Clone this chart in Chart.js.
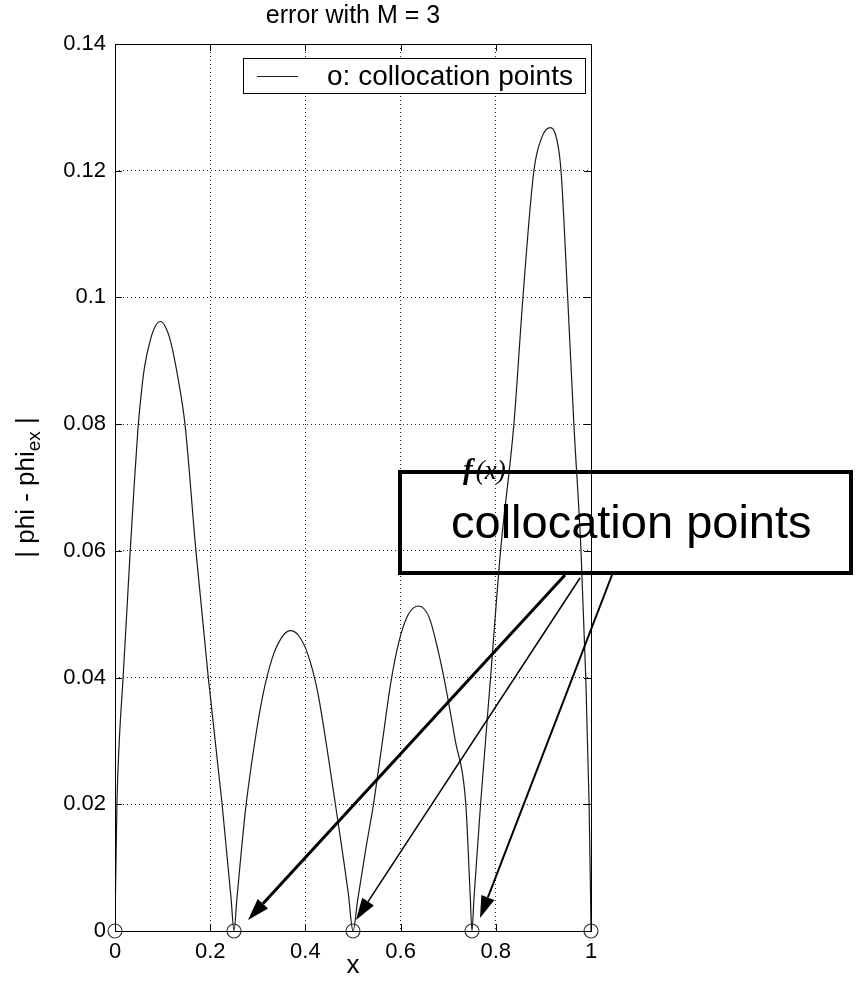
<!DOCTYPE html>
<html>
<head>
<meta charset="utf-8">
<script src="https://cdn.jsdelivr.net/npm/chart.js@4.4.0/dist/chart.umd.min.js"></script>
<style>
  html, body { margin: 0; padding: 0; background: #fff; }
  canvas { display: block; }
</style>
</head>
<body>
<canvas id="errChart" width="860" height="1001"></canvas>
<script>
// |phi - phi_ex|, one hump between each pair of collocation points
const errX = [
    0, 0.001, 0.004, 0.009, 0.017, 0.032, 0.04, 0.048, 0.054, 0.062, 0.075, 0.085, 0.095, 0.105, 0.117, 0.133, 0.147, 0.17, 0.196, 0.225, 0.244, 0.25,
    0.256, 0.274, 0.292, 0.31, 0.33, 0.35, 0.368, 0.386, 0.405, 0.425, 0.445, 0.463, 0.49, 0.5,
    0.51, 0.527, 0.543, 0.562, 0.579, 0.596, 0.615, 0.638, 0.66, 0.678, 0.691, 0.715, 0.737, 0.746, 0.75,
    0.754, 0.768, 0.789, 0.81, 0.838, 0.857, 0.88, 0.898, 0.915, 0.928, 0.937, 0.951, 0.964, 0.979, 0.989, 0.996, 0.999, 1
];
const errY = [
    0, 0.006, 0.02, 0.03, 0.04, 0.06, 0.07, 0.079, 0.084, 0.089, 0.0935, 0.0955, 0.0962, 0.0955, 0.093, 0.087, 0.08, 0.06, 0.04, 0.02, 0.005, 0,
    0.005, 0.019, 0.029, 0.037, 0.043, 0.0463, 0.0474, 0.0466, 0.0437, 0.038, 0.029, 0.02, 0.006, 0,
    0.005, 0.013, 0.02, 0.03, 0.039, 0.0455, 0.0498, 0.0513, 0.0495, 0.0445, 0.04, 0.03, 0.02, 0.006, 0,
    0.005, 0.02, 0.04, 0.06, 0.08, 0.1, 0.12, 0.1255, 0.1268, 0.125, 0.12, 0.1, 0.08, 0.06, 0.04, 0.02, 0.006, 0
];

// collocation points, M = 3
const collocX = [0, 0.25, 0.5, 0.75, 1];
const collocY = [0, 0, 0, 0, 0];

const xTicks = [0, 0.2, 0.4, 0.6, 0.8, 1];
const yTicks = [0, 0.02, 0.04, 0.06, 0.08, 0.1, 0.12, 0.14];

const FONT = "'Liberation Sans', Arial, Helvetica, sans-serif";
const SERIF = "'Liberation Serif', 'Times New Roman', serif";

function fmt(v) {
    return String(Math.round(v * 100) / 100);
}

// matlab style frame, title, labels, legend and the hand drawn annotation
const decor = {
    id: 'decor',
    afterDraw(chart) {
        const ctx = chart.ctx;
        const a = chart.chartArea;
        const sx = chart.scales.x, sy = chart.scales.y;
        ctx.save();

        // frame + inward ticks
        ctx.strokeStyle = '#000';
        ctx.lineWidth = 1;
        ctx.setLineDash([]);
        ctx.strokeRect(a.left + 0.5, a.top + 0.5, a.right - a.left, a.bottom - a.top);
        const tl = 7;
        ctx.beginPath();
        xTicks.forEach(v => {
            const px = Math.round(sx.getPixelForValue(v)) + 0.5;
            ctx.moveTo(px, a.bottom); ctx.lineTo(px, a.bottom - tl);
            ctx.moveTo(px, a.top); ctx.lineTo(px, a.top + tl);
        });
        yTicks.forEach(v => {
            const py = Math.round(sy.getPixelForValue(v)) + 0.5;
            ctx.moveTo(a.left, py); ctx.lineTo(a.left + tl, py);
            ctx.moveTo(a.right, py); ctx.lineTo(a.right - tl, py);
        });
        ctx.stroke();

        // title
        ctx.fillStyle = '#000';
        ctx.font = '25px ' + FONT;
        ctx.textAlign = 'center';
        ctx.textBaseline = 'middle';
        ctx.fillText('error with M = 3', (a.left + a.right) / 2, 16);

        // x label
        ctx.font = '26px ' + FONT;
        ctx.fillText('x', (a.left + a.right) / 2, 966);

        // y label with subscript
        ctx.save();
        ctx.translate(34, (a.top + a.bottom) / 2);
        ctx.rotate(-Math.PI / 2);
        ctx.textAlign = 'left';
        ctx.textBaseline = 'alphabetic';
        const big = '26px ' + FONT, small = '19px ' + FONT;
        ctx.font = big;
        const w1 = ctx.measureText('| phi - phi').width;
        const w3 = ctx.measureText(' |').width;
        ctx.font = small;
        const w2 = ctx.measureText('ex').width;
        let x0 = -(w1 + w2 + w3) / 2;
        ctx.font = big;
        ctx.fillText('| phi - phi', x0, 0);
        ctx.font = small;
        ctx.fillText('ex', x0 + w1, 6);
        ctx.font = big;
        ctx.fillText(' |', x0 + w1 + w2, 0);
        ctx.restore();

        // legend
        ctx.fillStyle = '#fff';
        ctx.fillRect(243, 58, 342, 35);
        ctx.strokeStyle = '#000';
        ctx.lineWidth = 1;
        ctx.strokeRect(243.5, 58.5, 342, 35);
        ctx.strokeStyle = '#222';
        ctx.beginPath();
        ctx.moveTo(257, 76.5); ctx.lineTo(298, 76.5);
        ctx.stroke();
        ctx.fillStyle = '#000';
        ctx.font = '28px ' + FONT;
        ctx.textAlign = 'left';
        ctx.textBaseline = 'middle';
        ctx.fillText('o: collocation points', 327, 77);

        // annotation box
        ctx.strokeStyle = '#000';
        ctx.lineWidth = 4;
        ctx.strokeRect(400, 472, 451, 101);
        ctx.textBaseline = 'alphabetic';
        ctx.font = '47px ' + FONT;
        ctx.fillText('collocation points', 451, 538);
        ctx.font = 'bold italic 29px ' + SERIF;
        ctx.fillText('f', 463, 479);
        const fw = ctx.measureText('f').width;
        ctx.font = 'italic 27px ' + SERIF;
        ctx.fillText('(x)', 466 + fw, 479);

        // arrows from the box to the interior collocation points
        const starts = [[565, 575], [580, 578], [612, 575]];
        const offs = [[14, -11], [3, -11], [8, -13]];
        const widths = [3, 1.5, 2];
        for (let i = 0; i < 3; i++) {
            const tx = sx.getPixelForValue(collocX[i + 1]) + offs[i][0];
            const ty = sy.getPixelForValue(collocY[i + 1]) + offs[i][1];
            const [fx, fy] = starts[i];
            const ang = Math.atan2(ty - fy, tx - fx);
            const hl = 22, hw = 7;
            const bx = tx - hl * Math.cos(ang), by = ty - hl * Math.sin(ang);
            ctx.strokeStyle = '#000';
            ctx.lineWidth = widths[i];
            ctx.beginPath();
            ctx.moveTo(fx, fy); ctx.lineTo(bx, by);
            ctx.stroke();
            ctx.fillStyle = '#000';
            ctx.beginPath();
            ctx.moveTo(tx, ty);
            ctx.lineTo(bx + hw * Math.sin(ang), by - hw * Math.cos(ang));
            ctx.lineTo(bx - hw * Math.sin(ang), by + hw * Math.cos(ang));
            ctx.closePath();
            ctx.fill();
        }
        ctx.restore();
    }
};

new Chart(document.getElementById('errChart'), {
    type: 'line',
    data: {
        datasets: [
            {
                label: 'error',
                data: errX.map((x, i) => ({ x: x, y: errY[i] })),
                borderColor: '#1a1a1a',
                borderWidth: 1.2,
                pointRadius: 0,
                cubicInterpolationMode: 'monotone',
                fill: false
            },
            {
                label: 'o: collocation points',
                data: collocX.map((x, i) => ({ x: x, y: collocY[i] })),
                showLine: false,
                pointRadius: 7,
                pointBorderColor: '#333',
                pointBackgroundColor: 'rgba(0,0,0,0)',
                pointBorderWidth: 1.2,
                clip: false
            }
        ]
    },
    options: {
        responsive: false,
        devicePixelRatio: 1,
        animation: false,
        layout: { padding: { top: 44, right: 269, left: 0, bottom: 0 } },
        plugins: {
            legend: { display: false },
            tooltip: { enabled: false },
            title: { display: false }
        },
        scales: {
            x: {
                type: 'linear',
                min: 0,
                max: 1,
                afterFit: s => { s.height = 70; },
                afterBuildTicks: s => { s.ticks = xTicks.map(v => ({ value: v })); },
                ticks: {
                    padding: 8,
                    color: '#000',
                    font: { family: FONT, size: 22 },
                    maxRotation: 0,
                    callback: v => fmt(v)
                },
                grid: { color: '#222', lineWidth: 1, drawTicks: false },
                border: { display: false, dash: [1, 3] }
            },
            y: {
                type: 'linear',
                min: 0,
                max: 0.14,
                afterFit: s => { s.width = 115; },
                afterBuildTicks: s => { s.ticks = yTicks.map(v => ({ value: v })); },
                ticks: {
                    padding: 9,
                    color: '#000',
                    font: { family: FONT, size: 22 },
                    callback: v => fmt(v)
                },
                grid: { color: '#222', lineWidth: 1, drawTicks: false },
                border: { display: false, dash: [1, 3] }
            }
        }
    },
    plugins: [decor]
});
</script>
</body>
</html>
